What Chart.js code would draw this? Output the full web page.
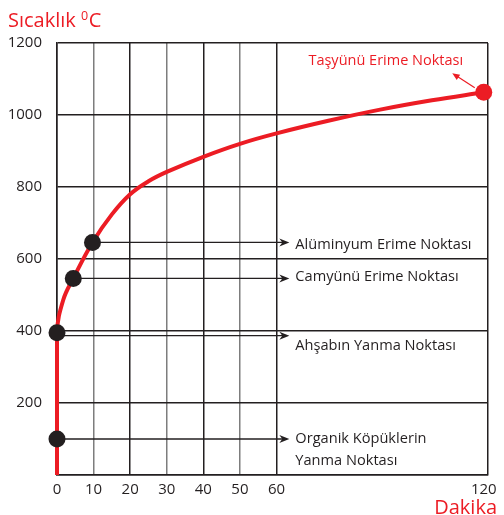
<!DOCTYPE html>
<html><head><meta charset="utf-8">
<script src="https://cdn.jsdelivr.net/npm/chart.js@4/dist/chart.umd.min.js"></script>
<style>html,body{margin:0;padding:0;background:#fff;}#wrap{width:504px;height:515px;position:relative}</style>
</head><body><div id="wrap"><canvas id="c" width="504" height="515"></canvas></div>
<script>
// ---- data (minutes, °C) ----
const curveMinutes = [0, 0, 1.7, 4.45, 9.7, 15, 20, 25, 30, 40, 50, 60, 75, 90, 105, 120];
const curveTemps   = [0, 395, 486, 546, 646, 724, 780, 816, 842, 884, 920, 949, 984, 1015, 1041, 1063];
const markerMinutes = [0, 0, 4.45, 9.7];
const markerTemps   = [100, 395, 546, 646];
const arrowTemps    = [100, 387, 546, 646];
const labelTemps    = [100, 359, 550, 639];
const markerLabels  = [["Organik Köpüklerin", "Yanma Noktası"], ["Ahşabın Yanma Noktası"], ["Camyünü Erime Noktası"], ["Alüminyum Erime Noktası"]];
const peakMinutes = [120];
const peakTemps   = [1063];
const peakLabel   = "Taşyünü Erime Noktası";
const xTickMinutes = [0, 10, 20, 30, 40, 50, 60, 120];
const yTickValues  = [0, 200, 400, 600, 800, 1000, 1200];
const yTitle = "Sıcaklık", yTitleSup = "0", yTitleUnit = "C";
const xTitle = "Dakika";

// broken x axis: 0–60 min at full scale, 60–120 compressed
const BREAK = 60, COMPRESS = 0.944, UMAX = 117.8;
const toAxis = m => m <= BREAK ? m : BREAK + (m - BREAK) * COMPRESS;
const ARROW_TIP = 63.5; // axis units

const RED = '#ec1c24', INK = '#231f20', GREY = '#7d7d7d';
const FONT = '"Open Sans", "Noto Sans", sans-serif';

const annot = {
  id: 'annot',
  beforeDatasetsDraw(chart) {
    const c = chart.ctx, xs = chart.scales.x, ys = chart.scales.y;
    c.save();
    c.strokeStyle = INK; c.fillStyle = INK; c.lineWidth = 1.3;
    const x1 = xs.getPixelForValue(ARROW_TIP);
    markerMinutes.forEach((m, i) => {
      const x0 = xs.getPixelForValue(toAxis(m));
      const y = ys.getPixelForValue(arrowTemps[i]);
      c.beginPath(); c.moveTo(x0, y); c.lineTo(x1 - 6, y); c.stroke();
      c.beginPath(); c.moveTo(x1, y); c.lineTo(x1 - 10, y - 4); c.lineTo(x1 - 7, y); c.lineTo(x1 - 10, y + 4); c.closePath(); c.fill();
    });
    c.restore();
  },
  afterDraw(chart) {
    const c = chart.ctx, xs = chart.scales.x, ys = chart.scales.y;
    c.save();
    c.fillStyle = INK; c.textAlign = 'left'; c.textBaseline = 'middle';
    c.font = '14.6px ' + FONT;
    const lx = xs.getPixelForValue(ARROW_TIP) + 6;
    markerLabels.forEach((lines, i) => {
      const y = ys.getPixelForValue(labelTemps[i]);
      lines.forEach((t, k) => c.fillText(t, lx, y + k * 22));
    });
    // peak label + arrow
    const px = xs.getPixelForValue(toAxis(peakMinutes[0])), py = ys.getPixelForValue(peakTemps[0]);
    c.fillStyle = RED; c.strokeStyle = RED; c.textAlign = 'center';
    c.font = '14.5px ' + FONT;
    c.fillText(peakLabel, px - 98, py - 31.5);
    const ax0 = px - 9, ay0 = py - 4.5, ax1 = px - 31.5, ay1 = py - 19;
    c.lineWidth = 1.2;
    c.beginPath(); c.moveTo(ax0, ay0); c.lineTo(ax1 + 4, ay1 + 2.5); c.stroke();
    const ang = Math.atan2(ay1 - ay0, ax1 - ax0);
    c.beginPath(); c.moveTo(ax1, ay1);
    c.lineTo(ax1 - 8 * Math.cos(ang - 0.4), ay1 - 8 * Math.sin(ang - 0.4));
    c.lineTo(ax1 - 8 * Math.cos(ang + 0.4), ay1 - 8 * Math.sin(ang + 0.4));
    c.closePath(); c.fill();
    // titles
    c.textAlign = 'left'; c.textBaseline = 'alphabetic';
    c.font = '20px ' + FONT;
    const base = 26.5;
    c.fillText(yTitle + ' ', 8, base);
    let w = c.measureText(yTitle + ' ').width + 8;
    c.font = '12.5px ' + FONT;
    c.fillText(yTitleSup, w, base - 6.5);
    w += c.measureText(yTitleSup).width + 0.5;
    c.font = '20px ' + FONT;
    c.fillText(yTitleUnit, w, base);
    c.textAlign = 'right';
    c.fillText(xTitle, 497, 513.5);
    c.restore();
  }
};

new Chart(document.getElementById('c'), {
  type: 'line',
  data: {
    datasets: [
      {
        label: 'markers', type: 'scatter', order: 0, clip: false,
        data: markerMinutes.map((m, i) => ({ x: toAxis(m), y: markerTemps[i] })),
        pointRadius: 8.5, pointBackgroundColor: INK, pointBorderWidth: 0, showLine: false
      },
      {
        label: 'peak', type: 'scatter', order: 0, clip: false,
        data: peakMinutes.map((m, i) => ({ x: toAxis(m), y: peakTemps[i] })),
        pointRadius: 8.5, pointBackgroundColor: RED, pointBorderWidth: 0, showLine: false
      },
      {
        label: 'curve', order: 1, clip: false,
        data: curveMinutes.map((m, i) => ({ x: toAxis(m), y: curveTemps[i] })),
        borderColor: RED, borderWidth: 4, pointRadius: 0, tension: 0.4, fill: false,
        borderCapStyle: 'butt'
      }
    ]
  },
  options: {
    responsive: false, animation: false, devicePixelRatio: 1,
    layout: { padding: { left: 0, top: 43, right: 16, bottom: 0 } },
    plugins: { legend: { display: false }, tooltip: { enabled: false } },
    scales: {
      x: {
        type: 'linear', min: 0, max: UMAX,
        afterBuildTicks: s => { s.ticks = xTickMinutes.map(m => ({ value: toAxis(m) })).concat([{ value: UMAX }]); },
        afterFit: s => { s.height = 40; },
        ticks: {
          autoSkip: false, maxRotation: 0, padding: 6, color: INK,
          font: { family: FONT, size: 15 },
          callback: (v, i) => i < xTickMinutes.length ? String(xTickMinutes[i]) : ''
        },
        grid: {
          drawTicks: false, lineWidth: 1.5,
          color: ctx => {
            const i = ctx.index;
            if (i === xTickMinutes.length - 1) return 'rgba(0,0,0,0)';
            if (i < xTickMinutes.length && (xTickMinutes[i] / 10) % 2 === 1) return GREY;
            return INK;
          }
        },
        border: { display: true, color: INK, width: 1.5 }
      },
      y: {
        min: 0, max: 1200,
        afterBuildTicks: s => { s.ticks = yTickValues.map(v => ({ value: v })); },
        afterFit: s => { s.width = 57; },
        ticks: {
          padding: 15, color: INK, font: { family: FONT, size: 15 },
          callback: v => v === 0 ? '' : String(v)
        },
        grid: { drawTicks: false, lineWidth: 1.5, color: INK },
        border: { display: true, color: INK, width: 1.5 }
      }
    }
  },
  plugins: [annot]
});
</script></body></html>
